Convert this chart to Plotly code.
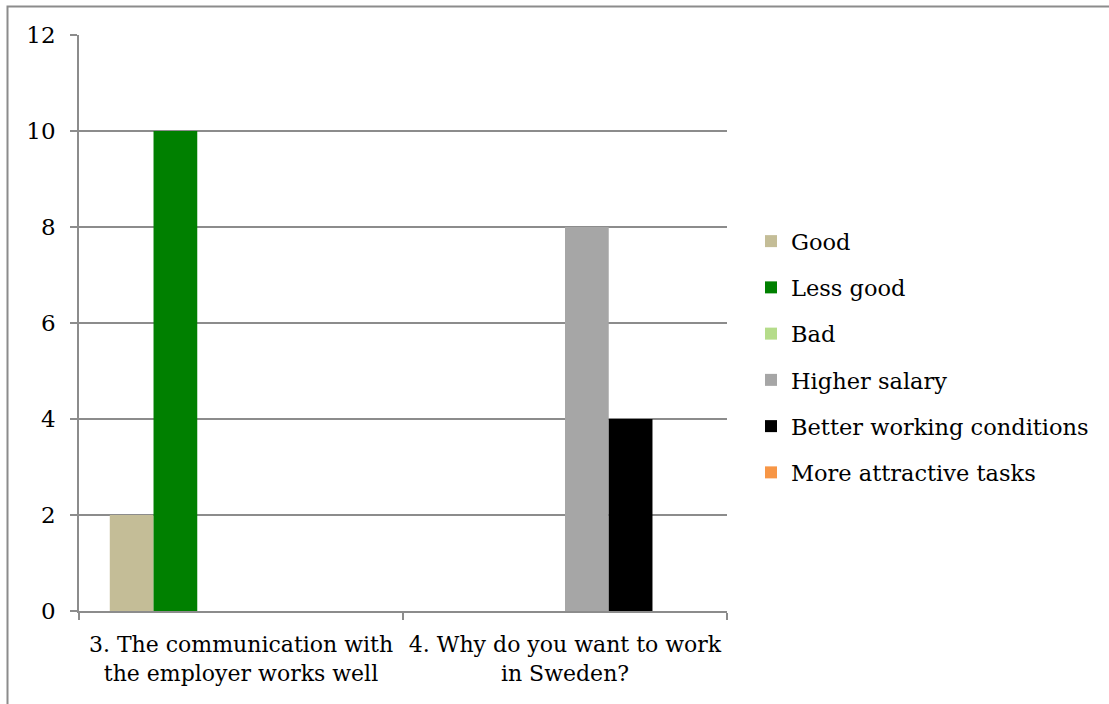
import plotly.graph_objects as go

categories = ["3. The communication with<br>the employer works well",
              "4. Why do you want to work<br>in Sweden?"]
series_names = ["Good", "Less good", "Bad", "Higher salary",
                "Better working conditions", "More attractive tasks"]
good = [2, 0]
less_good = [10, 0]
bad = [0, 0]
higher_salary = [0, 8]
better_conditions = [0, 4]
more_attractive = [0, 0]
colors = ["#C4BD97", "#008000", "#B5DC8A", "#A6A6A6", "#000000", "#F79646"]

values = [good, less_good, bad, higher_salary, better_conditions, more_attractive]

FONT = "DejaVu Serif"
W, H = 1109, 704
L, R, T, B = 79, 727, 35, 611

fig = go.Figure()
for i, (name, vals) in enumerate(zip(series_names, values)):
    fig.add_trace(go.Bar(x=categories, y=vals, name=name,
                         marker=dict(color=colors[i], line=dict(width=0)),
                         legendgroup=name))

pw, ph = R - L, B - T
def px2x(px):
    return (px - L) / pw
def px2y(py):
    return (B - py) / ph

fig.update_layout(
    width=W, height=H,
    margin=dict(l=L, r=W - R, t=T, b=H - B, autoexpand=False),
    paper_bgcolor="white", plot_bgcolor="white",
    barmode="group", bargap=0.19, bargroupgap=0,
    font=dict(family=FONT, size=23, color="#000000"),
    showlegend=True,
    legend=dict(x=px2x(751), xanchor="left", y=px2y(357), yanchor="middle",
                font=dict(family=FONT, size=22.5, color="#000000"),
                traceorder="grouped", tracegroupgap=14, itemwidth=30,
                bgcolor="rgba(0,0,0,0)"),
    xaxis=dict(showgrid=False, showline=True, linecolor="#8C8C8C", linewidth=1.5,
               ticks="outside", ticklen=7, tickcolor="#8C8C8C", tickwidth=1.5,
               tickson="boundaries", ticklabelstandoff=13, tickangle=0,
               tickfont=dict(family=FONT, size=22)),
    yaxis=dict(range=[0, 12], dtick=2, showgrid=True, gridcolor="#8C8C8C", gridwidth=1.5,
               showline=True, linecolor="#8C8C8C", linewidth=1.5,
               ticks="outside", ticklen=7, tickcolor="#8C8C8C", tickwidth=1.5,
               zeroline=False, ticklabelstandoff=10,
               tickfont=dict(family=FONT, size=23)),
    shapes=[dict(type="rect", xref="paper", yref="paper",
                 x0=px2x(7.5), x1=px2x(1120), y0=px2y(720), y1=px2y(6.5),
                 line=dict(color="#8C8C8C", width=2), fillcolor="rgba(0,0,0,0)",
                 layer="below")],
)

fig.write_html("out.html")
